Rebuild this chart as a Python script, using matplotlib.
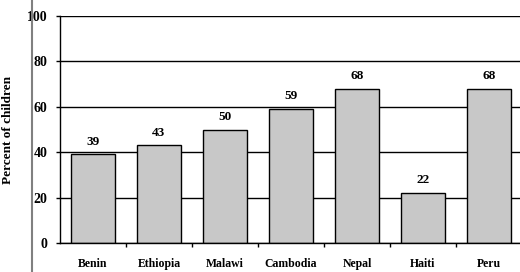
import matplotlib.pyplot as plt
from matplotlib.lines import Line2D

countries = ["Benin", "Ethiopia", "Malawi", "Cambodia", "Nepal", "Haiti", "Peru"]
percent = [39, 43, 50, 59, 68, 22, 68]
yticks = [0, 20, 40, 60, 80, 100]

plt.rcParams['font.family'] = ['Liberation Serif', 'DejaVu Serif']
plt.rcParams['font.weight'] = 'bold'

fig = plt.figure(figsize=(5.2, 2.72), dpi=100)
ax = fig.add_axes([60/520, 29/272, 462/520, 227/272])

x = list(range(len(countries)))
ax.set_axisbelow(True)
ax.yaxis.grid(True, color='black', linewidth=1)
bars = ax.bar(x, percent, width=0.67, color='#c8c8c8', edgecolor='black', linewidth=1, zorder=2)
for xi, v in zip(x, percent):
    ax.text(xi, v + 3, str(v), ha='center', va='bottom', fontsize=9.5, fontweight='bold')

ax.set_xlim(-0.5, len(countries) - 0.5)
ax.set_ylim(0, 100)
ax.set_yticks(yticks)
ax.set_yticklabels([str(t) for t in yticks], fontsize=10, fontweight='bold')
ax.set_xticks([i + 0.5 for i in x[:-1]])
ax.set_xticklabels([])
ax.set_xticks(x, minor=True)
ax.set_xticklabels(countries, minor=True, fontsize=8.5, fontweight='bold')
for lab in ax.get_xticklabels(minor=True):
    lab.set_verticalalignment('baseline')
ax.tick_params(axis='x', which='minor', length=0, pad=17)
ax.tick_params(axis='x', which='major', length=3, width=1, direction='out')
ax.tick_params(axis='y', length=3, width=1, direction='out', pad=6)
ax.set_ylabel("Percent of children", fontsize=9.5, fontweight='bold')
ax.yaxis.set_label_coords(-46/462, 0.5)

for s in ['top', 'right']:
    ax.spines[s].set_visible(False)
ax.spines['left'].set_linewidth(1)
ax.spines['bottom'].set_linewidth(1)

fig.add_artist(Line2D([32/520, 32/520], [0, 1], color='#808080', linewidth=1.5))

fig.savefig("out.png", dpi=100)
